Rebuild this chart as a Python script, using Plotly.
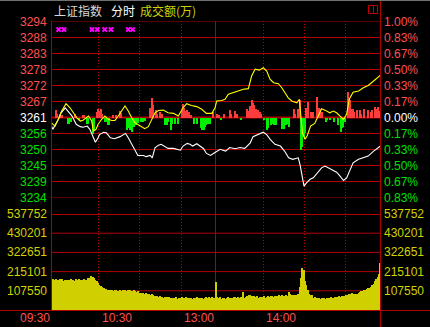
import plotly.graph_objects as go

# ---------------- data ----------------
preclose = 3261.2
price_labels = ["3294", "3288", "3283", "3278", "3272", "3267", "3261",
                "3256", "3250", "3245", "3239", "3234"]
pct_labels = ["1.00%", "0.83%", "0.67%", "0.50%", "0.33%", "0.17%", "0.00%",
              "0.17%", "0.33%", "0.50%", "0.67%", "0.83%"]
vol_labels = ["537752", "430201", "322651", "215101", "107550"]
vol_step = 107550.4
time_labels = ["09:30", "10:30", "13:00", "14:00"]
time_label_min = [0, 60, 120, 180]

# index (white) line: minute index, price
white_min = [0, 1, 5, 7, 10, 11, 15, 18, 21, 23, 26, 28, 29, 30.5, 32, 34, 35, 38, 40, 43,
             46, 50, 52, 54, 56, 58.5, 61, 63, 67, 69, 72, 73.5, 75.5, 78, 80, 83, 85, 89,
             91, 94, 96, 99, 101, 103, 106, 108, 111, 113, 116, 119, 123, 127, 130, 134,
             137.5, 141, 145, 147, 151, 154.5, 157, 159.5, 163, 167, 170, 173, 176, 180,
             181.3, 182.5, 184.2, 186, 188.6, 191, 193.5, 197, 199.5, 202, 204.4, 208,
             210.5, 213, 215.3, 218, 220, 224, 227.5, 231, 235, 240]
white_px = [3258.3, 3257.2, 3260.6, 3262.8, 3264.5, 3263.9, 3261.7, 3258.9, 3258.1, 3257.9,
            3258.3, 3257.2, 3256.0, 3254.0, 3252.8, 3254.3, 3255.4, 3256.2, 3256.0, 3254.3,
            3254.0, 3254.7, 3255.4, 3255.8, 3254.3, 3252.1, 3249.8, 3248.3, 3248.3, 3247.9,
            3248.3, 3247.5, 3250.9, 3251.8, 3252.1, 3251.3, 3250.7, 3250.7, 3250.4, 3250.1,
            3251.5, 3252.4, 3252.1, 3251.5, 3252.3, 3251.5, 3250.6, 3249.0, 3248.3, 3249.2,
            3250.4, 3249.8, 3251.0, 3250.6, 3251.0, 3250.7, 3252.6, 3254.7, 3255.4, 3256.2,
            3255.4, 3253.8, 3252.1, 3251.5, 3249.8, 3247.5, 3247.0, 3247.5, 3245.2, 3241.9,
            3237.9, 3239.0, 3240.2, 3240.7, 3242.2, 3244.1, 3244.7, 3244.1, 3243.6, 3242.6,
            3241.3, 3239.8, 3240.7, 3243.8, 3245.8, 3247.0, 3247.5, 3248.1, 3249.8, 3251.5]

# leading (yellow) line
yellow_min = [0, 2.6, 5, 7.4, 10.6, 13.5, 16, 18.4, 21, 23, 27, 29.3, 30.5, 32.5, 34, 36.6,
              39, 41.4, 44, 46.3, 48.7, 51.2, 53.6, 56, 58.5, 61, 64.6, 68, 70.6, 73, 75.5,
              78, 81.6, 85, 89, 92.5, 96, 98.6, 102, 106, 109.6, 113, 117, 119.3, 120.5,
              124, 126.6, 129, 132.6, 136, 140, 143.6, 146, 148.5, 151.6, 154.5, 157,
              159.4, 162, 165.5, 168, 170.3, 172.7, 175.2, 179, 180.8, 181.8, 183, 185,
              186.6, 189, 192, 194.6, 197, 199.5, 203, 205.6, 208, 210.5, 213, 215.3, 217.2,
              220, 224, 227.5, 231, 235, 240]
yellow_px = [3259.4, 3258.3, 3260.6, 3263.4, 3265.9, 3264.5, 3262.8, 3261.1, 3260.0, 3260.3,
             3261.7, 3260.0, 3256.6, 3257.2, 3258.9, 3260.6, 3261.7, 3260.6, 3260.2, 3260.2,
             3261.7, 3263.4, 3265.1, 3263.4, 3261.1, 3259.4, 3258.3, 3257.4, 3258.1, 3260.6,
             3262.8, 3263.6, 3263.7, 3262.8, 3262.6, 3261.7, 3264.5, 3265.9, 3265.3, 3264.9,
             3264.0, 3262.6, 3262.6, 3264.5, 3266.8, 3267.0, 3267.4, 3269.1, 3269.6, 3270.2,
             3270.8, 3271.0, 3275.3, 3277.6, 3277.3, 3278.1, 3277.0, 3274.2, 3273.0, 3272.7,
             3271.3, 3269.6, 3267.9, 3266.8, 3266.2, 3267.4, 3260.6, 3256.0, 3253.8, 3255.1,
             3258.3, 3259.2, 3261.7, 3264.2, 3263.7, 3262.8, 3263.4, 3262.8, 3261.7, 3260.6,
             3262.3, 3267.4, 3269.8, 3270.2, 3271.3, 3272.1, 3273.6, 3275.6]

# red / green breadth bars (index points from the 0% line)
rg_min = [3, 4, 6, 8, 12, 13, 14, 17, 18, 20, 23, 24, 26, 27, 30, 31, 33, 34, 35, 36, 37,
          39, 40, 41, 42, 45, 47, 50, 51, 55, 56, 57, 59, 60, 62, 63, 65, 67, 68, 72, 73,
          74, 76, 77, 79, 81, 83, 84, 85, 87, 88, 90, 92, 95, 96, 97, 98, 99, 100, 102,
          104, 106, 109, 110, 111, 112, 113, 114, 116, 118, 121, 122, 124, 126, 130, 131,
          134, 135, 138, 143, 144, 145, 146, 147, 148, 149, 150, 151, 152, 153, 155, 157,
          158, 160, 161, 162, 163, 164, 168, 169, 170, 171, 172, 173, 177, 178, 180, 181,
          182, 183, 184, 185, 186, 187, 189, 190, 191, 194, 195, 196, 197, 200, 201, 203,
          206, 209, 211, 212, 213, 214, 216, 217, 218, 219, 220, 221, 223, 225, 226, 228,
          231, 233, 234, 236, 237, 238, 239]
rg_val = [2.6, 1.5, 0.9, 0.9, -1.9, -1.9, -1.2, 1.5, 0.8, -0.8, 1.0, 1.0, -1.9, -1.9, -5.3,
          -4.0, 2.0, 3.2, 2.5, 3.0, 1.5, -1.2, -1.2, -2.5, -2.5, 1.0, 1.0, 2.4, 1.8, -4.2,
          -3.5, -4.2, -4.8, -3.0, -2.5, -1.8, -1.4, -1.4, -1.0, 3.5, 6.8, 4.5, 2.6, 1.5, 2.0,
          1.2, -2.5, -2.5, -1.5, -4.2, -2.0, -1.9, -1.9, 2.5, 4.9, 3.5, 2.5, 2.6, 2.0, 1.0,
          -1.9, -1.9, -3.5, -4.2, -4.0, -3.0, -2.5, -1.9, -1.9, 2.0, 1.5, 1.0, -0.8, 1.5,
          2.6, 1.5, 2.3, 1.5, -0.7, 3.2, 2.5, 4.0, 6.2, 5.0, 4.3, 3.0, 2.0, 2.8, 2.0, 1.5,
          -0.7, -4.2, -3.5, -2.5, -2.0, -2.5, -1.5, -2.5, -3.6, -3.0, -3.6, -2.5, -2.0, -3.0,
          3.2, 1.5, 3.0, 6.0, -11.0, -10.0, -6.5, -5.0, 3.5, 5.4, 2.0, 1.5, 2.0, 7.1, 3.5,
          3.2, 2.0, -1.4, -0.8, -0.7, -1.4, -2.5, -4.8, -3.5, -3.0, -1.5, 8.8, 6.5, 6.0, 3.0,
          3.2, 2.0, 2.6, 2.6, 1.5, 3.2, 2.6, 2.0, 2.6, 3.8, 3.0, 3.8, 2.5]

# turnover per minute (万)
vol = [
    500000, 172000, 168000, 174000, 170000, 168000, 174000, 172000, 174000, 165000,
    170000, 168000, 160000, 168000, 174000, 168000, 170000, 162000, 174000, 168000,
    174000, 166000, 170000, 168000, 174000, 166000, 170000, 178000, 182000, 188000,
    186000, 180000, 168000, 160000, 150000, 140000, 135000, 128000, 125000, 120000,
    115000, 112000, 108000, 114000, 110000, 106000, 112000, 110000, 104000, 108000,
    112000, 108000, 110000, 104000, 112000, 106000, 110000, 114000, 108000, 104000,
    110000, 106000, 100000, 104000, 98000, 95000, 92000, 96000, 90000, 94000,
    88000, 92000, 85000, 88000, 82000, 80000, 76000, 78000, 74000, 76000,
    72000, 75000, 70000, 74000, 72000, 68000, 72000, 66000, 70000, 65000,
    68000, 72000, 64000, 70000, 67000, 74000, 66000, 70000, 72000, 65000,
    68000, 66000, 70000, 64000, 66000, 68000, 72000, 65000, 70000, 66000,
    68000, 64000, 70000, 72000, 68000, 74000, 70000, 72000, 68000, 70000,
    158000, 72000, 70000, 72000, 62000, 68000, 66000, 60000, 70000, 72000,
    68000, 70000, 66000, 72000, 74000, 70000, 72000, 68000, 72000, 47000,
    103000, 68000, 74000, 76000, 82000, 86000, 78000, 74000, 80000, 72000,
    76000, 70000, 74000, 74000, 72000, 76000, 70000, 74000, 78000, 72000,
    76000, 80000, 74000, 78000, 76000, 80000, 84000, 78000, 82000, 80000,
    78000, 84000, 80000, 100000, 90000, 86000, 84000, 80000, 82000, 86000,
    90000, 130000, 180000, 235000, 225000, 165000, 140000, 110000, 90000, 82000,
    82000, 70000, 72000, 68000, 66000, 70000, 64000, 68000, 70000, 66000,
    64000, 68000, 66000, 70000, 72000, 68000, 70000, 74000, 72000, 70000,
    76000, 74000, 78000, 80000, 78000, 82000, 86000, 90000, 88000, 95000,
    92000, 90000, 88000, 92000, 96000, 100000, 104000, 108000, 112000, 110000,
    118000, 122000, 126000, 130000, 140000, 148000, 160000, 172000, 186000, 200000,
    262000,
]
vol_min = list(range(len(vol)))

# big-order signal marks along the top
signal_min = [5.2, 9.1, 29.5, 33.4, 38.8, 43.4, 56.0, 59.2]

# ---------------- layout helpers ----------------
W, H = 430, 327
L, R, T, B = 51, 49, 21, 17
PW, PH = W - L - R, H - T - B


def pxx(px):
    return (px - L) / PW


def pxy(py):
    return (H - B - py) / PH


step = preclose * 0.01 / 6
price_levels = [preclose + (6 - k) * step for k in range(12)]
ppm = 329 / 240.0
xr = [-0.5 / ppm, 240 + 0.5 / ppm]

RED_TXT = "#ff5050"
GRN_TXT = "#00e000"
YEL_TXT = "#d2d200"
GRID = "#b00000"

fig = go.Figure()

fig.add_trace(go.Bar(
    x=rg_min, y=rg_val, base=preclose, width=0.8,
    marker=dict(color=["#ff3c3c" if v > 0 else "#00f000" for v in rg_val], line_width=0),
    yaxis="y", xaxis="x", showlegend=False, hoverinfo="skip"))
fig.add_trace(go.Scatter(x=white_min, y=white_px, mode="lines",
                         line=dict(color="#ffffff", width=1.1), showlegend=False))
fig.add_trace(go.Scatter(x=yellow_min, y=yellow_px, mode="lines",
                         line=dict(color="#ffff00", width=1.1), showlegend=False))
fig.add_trace(go.Scatter(x=signal_min, y=[preclose + 5.5 * step] * len(signal_min),
                         mode="markers",
                         marker=dict(symbol="x", size=5, color="#ff00ff", line_width=0),
                         showlegend=False))
fig.add_trace(go.Bar(
    x=vol_min, y=vol, width=0.8, yaxis="y2", xaxis="x",
    marker=dict(color="#d0d000", line_width=0), showlegend=False, hoverinfo="skip"))

shapes = []
# price grid
for k, lv in enumerate(price_levels):
    shapes.append(dict(type="line", xref="paper", yref="y", x0=pxx(51.5), x1=pxx(380.5),
                       y0=lv, y1=lv, line=dict(color=GRID, width=2 if k == 6 else 1),
                       layer="below"))
# volume grid
for j in range(1, 6):
    lv = j * vol_step
    shapes.append(dict(type="line", xref="paper", yref="y2", x0=pxx(51.5), x1=pxx(380.5),
                       y0=lv, y1=lv, line=dict(color=GRID, width=2 if j == 5 else 1),
                       layer="below"))
# vertical lines
for px in [98.5, 139.5, 181.5, 263.5, 304.5, 345.5]:
    shapes.append(dict(type="line", xref="paper", yref="paper", x0=pxx(px), x1=pxx(px),
                       y0=pxy(21), y1=pxy(310),
                       line=dict(color=GRID, width=1, dash="1px,2px"), layer="below"))
shapes.append(dict(type="line", xref="paper", yref="paper", x0=pxx(215.5), x1=pxx(215.5),
                   y0=pxy(21), y1=pxy(310), line=dict(color=GRID, width=1), layer="below"))
# borders
shapes.append(dict(type="line", xref="paper", yref="paper", x0=pxx(51.5), x1=pxx(51.5),
                   y0=pxy(21), y1=pxy(310.5), line=dict(color=GRID, width=1)))
shapes.append(dict(type="line", xref="paper", yref="paper", x0=pxx(380.5), x1=pxx(380.5),
                   y0=pxy(0), y1=pxy(327), line=dict(color=GRID, width=1)))
shapes.append(dict(type="line", xref="paper", yref="paper", x0=pxx(0), x1=pxx(430),
                   y0=pxy(310.5), y1=pxy(310.5), line=dict(color=GRID, width=1)))
shapes.append(dict(type="line", xref="paper", yref="paper", x0=pxx(0), x1=pxx(430),
                   y0=pxy(0.5), y1=pxy(0.5), line=dict(color="#707070", width=1)))
# small icon
shapes.append(dict(type="rect", xref="paper", yref="paper", x0=pxx(368.5), x1=pxx(377.5),
                   y0=pxy(5.5), y1=pxy(13.5), line=dict(color="#c00000", width=1)))
shapes.append(dict(type="line", xref="paper", yref="paper", x0=pxx(373.5), x1=pxx(373.5),
                   y0=pxy(5.5), y1=pxy(13.5), line=dict(color="#c00000", width=1)))

ann = []
FONT = "Liberation Sans, Arial, sans-serif"
for k, lv in enumerate(price_levels):
    col = RED_TXT if k < 6 else ("#ffffff" if k == 6 else GRN_TXT)
    ann.append(dict(xref="paper", yref="y", x=pxx(49), y=lv, text=price_labels[k],
                    xanchor="right", yanchor="middle", showarrow=False,
                    font=dict(family=FONT, size=12, color=col)))
    ann.append(dict(xref="paper", yref="y", x=pxx(382), y=lv, text=pct_labels[k],
                    xanchor="left", yanchor="middle", showarrow=False,
                    font=dict(family=FONT, size=12, color=col)))
for j in range(5):
    lv = (5 - j) * vol_step
    for xx, anc in [(pxx(49), "right"), (pxx(382), "left")]:
        ann.append(dict(xref="paper", yref="y2", x=xx, y=lv, text=vol_labels[j],
                        xanchor=anc, yanchor="middle", showarrow=False,
                        font=dict(family=FONT, size=12, color=YEL_TXT)))
for t, m in zip(time_labels, time_label_min):
    ann.append(dict(xref="paper", yref="paper", x=pxx(51.5 + m * ppm + 0.2), y=pxy(318.5),
                    text=t, xanchor="right", yanchor="middle", showarrow=False,
                    font=dict(family=FONT, size=12, color=RED_TXT)))
CJK = "Noto Sans CJK SC, sans-serif"
for txt, px, col in [("上证指数", 52, "#d8d8d8"), ("分时", 109, "#ffffff"),
                     ("成交额(万)", 137.5, YEL_TXT)]:
    ann.append(dict(xref="paper", yref="paper", x=pxx(px), y=pxy(10.5), text=txt,
                    xanchor="left", yanchor="middle", showarrow=False,
                    font=dict(family=CJK, size=12, color=col)))

fig.update_layout(
    width=W, height=H, margin=dict(l=L, r=R, t=T, b=B, pad=0),
    paper_bgcolor="#000000", plot_bgcolor="#000000",
    barmode="overlay", bargap=0, showlegend=False,
    xaxis=dict(range=xr, visible=False, fixedrange=True),
    yaxis=dict(domain=[pxy(197.5), pxy(21.5)],
               range=[preclose - 5 * step, preclose + 6 * step], visible=False),
    yaxis2=dict(domain=[0, pxy(214)], range=[0, 5 * vol_step], visible=False,
                anchor="x"),
    shapes=shapes, annotations=ann,
)

fig.write_html("out.html", config={"displayModeBar": False})
